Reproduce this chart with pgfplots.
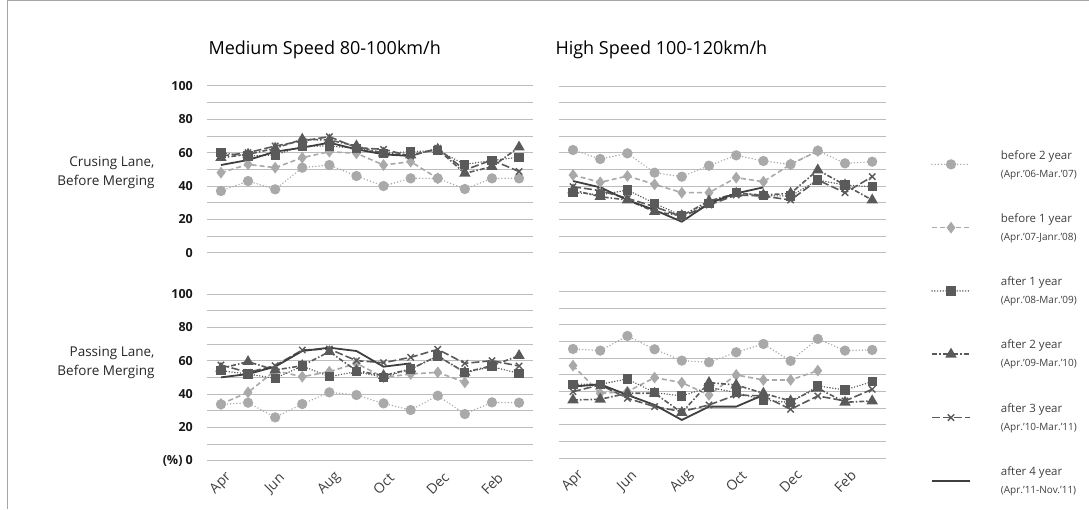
\documentclass[border=0pt]{standalone}
\usepackage{fontspec}
\setmainfont{Open Sans}
\usepackage{pgfplots}
\usepackage{pgfplotstable}
\pgfplotsset{compat=1.18}

\definecolor{lgray}{HTML}{A9A9A9}
\definecolor{dgray}{HTML}{5A5A5A}
\definecolor{sgray}{HTML}{3F3F3F}
\definecolor{gridc}{HTML}{BDBDBD}

% columns: month index, before 2y, before 1y, after 1y, after 2y, after 3y, after 4y
\pgfplotstableread{
x b2 b1 a1 a2 a3 a4
0 37 48 60 57 58 52.6
1 43 53 58 59 60 55.6
2 38 51 58.6 62.6 64 60.6
3 51 57 64 68 67 63
4 52.6 60.6 64 67.6 69.6 66
5 46 59.6 62.6 64 63 62
6 40 52.6 59.6 59.6 62 59
7 44.6 54.6 60.6 58.6 58 58
8 44.6 44.6 61.3 62 62.6 nan
9 38.2 nan 53 47.6 49.6 nan
10 44.6 nan 55.3 51.6 55.6 nan
11 44.6 nan 57.3 63.3 48.7 nan
}\tl
\pgfplotstableread{
x b2 b1 a1 a2 a3 a4
0 61.6 46.6 36.2 37.6 39.6 43
1 56.2 42.2 34.6 33.6 37.2 39.2
2 59.6 46 37.6 31.6 32.6 31.6
3 48 41 29.6 24.6 27.6 25.6
4 45.6 36 22.2 22.2 21.6 18.6
5 52.2 36 29.6 31 28.6 29.6
6 58.4 45 36.2 35.6 34.6 35.6
7 55 42.6 34.2 34.6 34 39.2
8 53 53 34 35.6 31.6 nan
9 61.2 61 43.6 49.6 43.6 nan
10 53.6 nan 40.6 40.6 36 nan
11 54.6 nan 39.6 31.6 45.6 nan
}\tr
\pgfplotstableread{
x b2 b1 a1 a2 a3 a4
0 33.8 34 54 55.4 57.4 50
1 34.8 41 52 59.4 53 52
2 26 54 49.4 54.4 57 56.4
3 34 50.4 56.8 57 66.4 65.8
4 41 53.4 50.4 65.4 67 67.8
5 39.4 58.4 53.4 54 60 65.8
6 34.4 50 50 51 58.8 56.4
7 30.4 52 55 55 62 58.4
8 39 53 62.8 62.8 66.8 nan
9 28 47 52.8 53 58.4 nan
10 35 nan 56.4 57 60 nan
11 34.8 nan 52.4 63 56.8 nan
}\bl
\pgfplotstableread{
x b2 b1 a1 a2 a3 a4
0 65.6 55.6 44.4 35 40 43
1 64.6 39 44.4 35.4 44 44.4
2 73.4 40 47.6 39 36 38
3 65.4 48.4 39.4 39 31 32
4 58.6 45.4 37.4 27.4 28 23
5 57.6 38 42.6 45.4 32 31
6 63.6 50 39.4 44 38 31
7 68.6 47 35 39 37.4 38
8 58.4 47 33.4 34.4 29.4 nan
9 71.6 52.6 43.4 42 37.4 nan
10 64.6 nan 41 33.6 34.4 nan
11 65 nan 46 34.4 41.4 nan
}\br

\pgfplotsset{
  panel/.style={
    scale only axis, height=166.7pt,
    xmin=-0.5, xmax=11.5, ymin=0, ymax=100,
    xtick={0,2,...,10}, xticklabels={},
    ytick={0,20,...,100}, minor ytick={10,30,...,90},
    ymajorgrids, yminorgrids,
    major grid style={gridc, line width=1pt},
    minor grid style={gridc, line width=1pt},
    axis line style={draw=none},
    major tick length=0pt, minor tick length=0pt,
    yticklabels={},
    clip=false,
    yticklabel style={font=\fontsize{12.5}{12.5}\selectfont\bfseries, text=black!90, xshift=-11pt},
    /pgf/number format/assume math mode=true,
  },
  bottomrow/.style={
    extra y ticks={0}, extra y tick labels={},
    extra y tick style={grid style={gray, line width=1.3pt}},
    xticklabels={Apr,Jun,Aug,Oct,Dec,Feb},
    xticklabel shift=23pt,
    xticklabel style={font=\fontsize{14}{14}\selectfont, text=black!75,
      anchor=center, rotate=45},
  },
  b2/.style={lgray, line width=1.6pt, line cap=round, dash pattern=on 0pt off 3.2pt,
    mark=*, mark size=4.3pt, mark options={solid, fill=lgray}},
  b1/.style={lgray, line width=1.6pt, dash pattern=on 5pt off 3pt,
    mark=diamond*, mark size=4.6pt, mark options={solid, fill=lgray}},
  a1/.style={dgray, line width=1.6pt, line cap=round, dash pattern=on 0pt off 2.8pt,
    mark=square*, mark size=3.8pt, mark options={solid, fill=dgray}},
  a2/.style={dgray, line width=1.6pt, dash pattern=on 5pt off 2pt on 1.5pt off 2pt,
    mark=triangle*, mark size=5pt, mark options={solid, fill=dgray}},
  a3/.style={dgray, line width=1.6pt, dash pattern=on 8pt off 3pt,
    mark=x, mark size=4.5pt, mark options={solid, line width=1.4pt}},
  a4/.style={sgray, line width=1.8pt, mark=none},
}

\newcommand{\sub}[1]{{\fontsize{10}{12}\selectfont #1}}

\begin{document}
\begin{tikzpicture}[x=1pt,y=1pt]
\path[use as bounding box] (0pt,0pt) rectangle (1089pt,509pt);
\draw[gray!70, line width=1pt] (7pt,0pt) -- (7pt,508pt) -- (1089pt,508pt);

\node[anchor=west, font=\fontsize{18}{18}\selectfont] at (205pt,459pt) {Medium Speed 80-100km/h};
\node[anchor=west, font=\fontsize{18}{18}\selectfont] at (552pt,459pt) {High Speed 100-120km/h};
\node[anchor=east, align=right, font=\fontsize{13.5}{19}\selectfont, text=black!85] at (158pt,336pt) {Crusing Lane,\\Before Merging};
\node[anchor=east, align=right, font=\fontsize{13.5}{19}\selectfont, text=black!85] at (158pt,146pt) {Passing Lane,\\Before Merging};

% top left
\begin{axis}[panel, width=325.2pt, at={(207.4pt,256.3pt)}, anchor=south west,
  yticklabels={0,20,40,60,80,100}]
\addplot[b2] table[x=x,y=b2]{\tl};
\addplot[b1] table[x=x,y=b1]{\tl};
\addplot[a1] table[x=x,y=a1]{\tl};
\addplot[a2] table[x=x,y=a2]{\tl};
\addplot[a3] table[x=x,y=a3]{\tl};
\addplot[a4] table[x=x,y=a4]{\tl};
\end{axis}

% top right, carries the legend
\begin{axis}[panel, width=326.4pt, at={(559.4pt,256.3pt)}, anchor=south west,
  legend style={at={(1.129,0.64)}, anchor=north west, draw=none, fill=none,
    font=\fontsize{11.5}{18}\selectfont, text=sgray, row sep=31pt, column sep=28pt,
    cells={anchor=west, align=left}},
  legend image code/.code={
    \draw[mark repeat=2,mark phase=2,#1] plot coordinates {(0pt,0pt) (19pt,0pt) (38pt,0pt)};}]
\addplot[b2] table[x=x,y=b2]{\tr};
\addplot[b1] table[x=x,y=b1]{\tr};
\addplot[a1] table[x=x,y=a1]{\tr};
\addplot[a2] table[x=x,y=a2]{\tr};
\addplot[a3] table[x=x,y=a3]{\tr};
\addplot[a4] table[x=x,y=a4]{\tr};
\addlegendentry{before 2 year\\\sub{(Apr.’06-Mar.’07)}}
\addlegendentry{before 1 year\\\sub{(Apr.’07-Janr.’08)}}
\addlegendentry{after 1 year\\\sub{(Apr.’08-Mar.’09)}}
\addlegendentry{after 2 year\\\sub{(Apr.’09-Mar.’10)}}
\addlegendentry{after 3 year\\\sub{(Apr.’10-Mar.’11)}}
\addlegendentry{after 4 year\\\sub{(Apr.’11-Nov.’11)}}
\end{axis}

% bottom left
\begin{axis}[panel, bottomrow, width=325.2pt, at={(207.4pt,48.3pt)}, anchor=south west,
  yticklabels={(\%) 0,20,40,60,80,100}]
\addplot[b2] table[x=x,y=b2]{\bl};
\addplot[b1] table[x=x,y=b1]{\bl};
\addplot[a1] table[x=x,y=a1]{\bl};
\addplot[a2] table[x=x,y=a2]{\bl};
\addplot[a3] table[x=x,y=a3]{\bl};
\addplot[a4] table[x=x,y=a4]{\bl};
\end{axis}

% bottom right
\begin{axis}[panel, bottomrow, width=326.4pt, at={(559.4pt,50.7pt)}, anchor=south west]
\addplot[b2] table[x=x,y=b2]{\br};
\addplot[b1] table[x=x,y=b1]{\br};
\addplot[a1] table[x=x,y=a1]{\br};
\addplot[a2] table[x=x,y=a2]{\br};
\addplot[a3] table[x=x,y=a3]{\br};
\addplot[a4] table[x=x,y=a4]{\br};
\end{axis}
\end{tikzpicture}
\end{document}
